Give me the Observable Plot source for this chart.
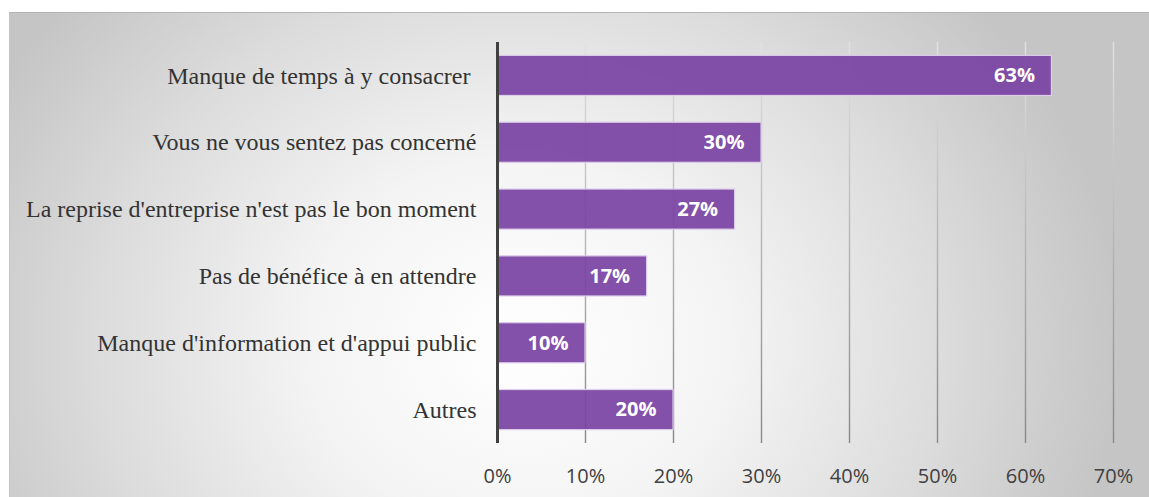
<!DOCTYPE html>
<html>
<head>
<meta charset="utf-8">
<script src="https://cdn.jsdelivr.net/npm/d3@7"></script>
<script src="https://cdn.jsdelivr.net/npm/@observablehq/plot@0.6"></script>
<style>
  html, body { margin: 0; padding: 0; background: #fff; }
  #wrap { position: relative; width: 1149px; height: 497px; overflow: hidden; background: #fff; }
  #bg { position: absolute; left: 9px; top: 12px; right: 0; bottom: 0;
        border-top: 1px solid #b4b4b4; border-left: 1px solid #c4c4c4;
        background: radial-gradient(ellipse 600px 520px at 510px 330px, #ffffff 0%, #f4f4f4 35%, #dcdcdc 70%, #c5c5c5 100%); }
  #chart { position: absolute; left: 0; top: 0; }
</style>
</head>
<body>
<div id="wrap"><div id="bg"></div><div id="chart"></div></div>
<script>
const categories = [
  "Manque de temps à y consacrer ",
  "Vous ne vous sentez pas concerné",
  "La reprise d'entreprise n'est pas le bon moment",
  "Pas de bénéfice à en attendre",
  "Manque d'information et d'appui public",
  "Autres"
];
const values = [63, 30, 27, 17, 10, 20];
const xTicks = [0, 10, 20, 30, 40, 50, 60, 70];

const data = categories.map((c, i) => ({cat: c, value: values[i]}));

const chart = Plot.plot({
  width: 1149,
  height: 497,
  marginLeft: 497,
  marginRight: 36,
  marginTop: 42,
  marginBottom: 54,
  style: {background: "transparent", overflow: "visible"},
  x: {domain: [0, 70]},
  y: {domain: categories, paddingInner: 0.4, paddingOuter: 0.2, round: false},
  marks: [
    Plot.ruleX(xTicks.filter(d => d > 0), {x: d => d, stroke: "url(#gridgrad)", strokeWidth: 1.4}),
    Plot.barX(data, {x: "value", y: "cat", fill: "#7a43a4", fillOpacity: 0.93, stroke: "#dccdea", strokeWidth: 1.2}),
    Plot.ruleX([0], {stroke: "#404040", strokeWidth: 3}),
    Plot.axisY({tickSize: 0, tickPadding: 21, fontSize: 24, fontFamily: "Liberation Serif", fill: "#333", label: null}),
    Plot.axisX({ticks: xTicks, tickFormat: d => d + "%", tickSize: 0, tickPadding: 25, fontSize: 20, fontFamily: "Open Sans", fill: "#404040", label: null}),
    Plot.text(data, {x: "value", y: "cat", text: d => d.value + "%", textAnchor: "end", dx: -17, fill: "white", fontWeight: "bold", fontSize: 20, fontFamily: "Open Sans"})
  ]
});

const defs = d3.select(chart).insert("defs", ":first-child");
const g = defs.append("linearGradient").attr("id", "gridgrad")
  .attr("gradientUnits", "userSpaceOnUse")
  .attr("x1", 0).attr("y1", 42).attr("x2", 0).attr("y2", 443);
g.append("stop").attr("offset", "0%").attr("stop-color", "#e2e2e2");
g.append("stop").attr("offset", "100%").attr("stop-color", "#888888");

document.getElementById("chart").appendChild(chart);
</script>
</body>
</html>
